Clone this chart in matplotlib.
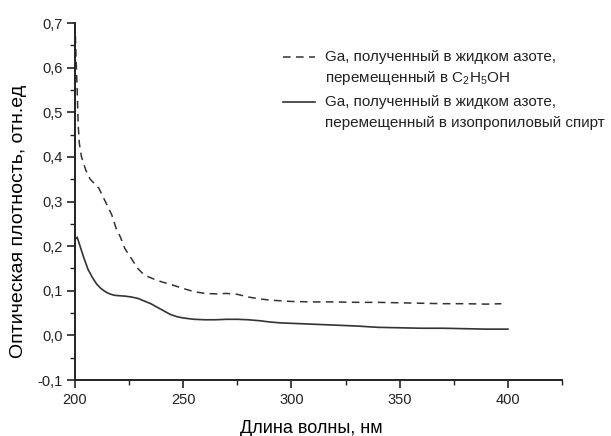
import numpy as np
import matplotlib.pyplot as plt
from matplotlib.lines import Line2D
from matplotlib.ticker import FixedLocator, MultipleLocator

plt.rcParams['font.family'] = ['Liberation Sans', 'DejaVu Sans']
plt.rcParams['mathtext.fontset'] = 'custom'
plt.rcParams['mathtext.rm'] = 'Liberation Sans'
plt.rcParams['mathtext.it'] = 'Liberation Sans'

# Ga в C2H5OH (штриховая)
wl_eth = [200, 200.5, 201, 201.5, 202, 203, 205, 207, 209, 211, 213, 215, 217,
          219, 221, 223, 225, 227, 229, 231, 233, 236, 240, 245, 250, 255, 260,
          265, 270, 275, 280, 285, 290, 300, 310, 320, 330, 340, 350, 360, 370,
          380, 390, 397]
od_eth = [0.70, 0.62, 0.55, 0.47, 0.43, 0.40, 0.37, 0.35, 0.34, 0.33, 0.31, 0.29,
          0.27, 0.24, 0.22, 0.195, 0.18, 0.165, 0.15, 0.14, 0.133, 0.127, 0.12,
          0.113, 0.105, 0.098, 0.094, 0.093, 0.094, 0.092, 0.086, 0.082, 0.079,
          0.076, 0.075, 0.075, 0.074, 0.074, 0.073, 0.072, 0.071, 0.071, 0.070,
          0.071]

# Ga в изопропиловом спирте (сплошная)
wl_iso = [200, 201, 202, 204, 206, 208, 210, 212, 214, 216, 218, 220, 223, 226,
          229, 232, 235, 238, 241, 244, 247, 250, 255, 260, 265, 270, 275, 280,
          285, 290, 295, 300, 310, 320, 330, 340, 350, 360, 370, 380, 390, 400]
od_iso = [0.215, 0.22, 0.205, 0.175, 0.148, 0.13, 0.115, 0.105, 0.098, 0.093,
          0.090, 0.089, 0.088, 0.086, 0.083, 0.077, 0.071, 0.063, 0.055, 0.047,
          0.042, 0.039, 0.036, 0.035, 0.035, 0.036, 0.036, 0.035, 0.033, 0.030,
          0.028, 0.027, 0.025, 0.023, 0.021, 0.018, 0.017, 0.016, 0.016, 0.015,
          0.014, 0.014]

xticks = [200, 250, 300, 350, 400]
yticks = [-0.1, 0.0, 0.1, 0.2, 0.3, 0.4, 0.5, 0.6, 0.7]
ytick_labels = ['-0,1', '0,0', '0,1', '0,2', '0,3', '0,4', '0,5', '0,6', '0,7']

label_eth = ['Ga, полученный в жидком азоте,', 'перемещенный в C$_2$H$_5$OH']
label_iso = ['Ga, полученный в жидком азоте,', 'перемещенный в изопропиловый спирт']

W, H = 611, 436
fig = plt.figure(figsize=(W / 100, H / 100), dpi=100)
ax = fig.add_axes([75 / W, 1 - 380 / H, 487 / W, 357 / H])

line_col = '#333333'
ax.plot(wl_eth, od_eth, color=line_col, lw=1.1, dashes=(5, 3.5))
ax.plot(wl_iso, od_iso, color=line_col, lw=1.2)

ax.set_xlim(200, 425)
ax.set_ylim(-0.1, 0.7)
ax.xaxis.set_major_locator(FixedLocator(xticks))
ax.xaxis.set_minor_locator(MultipleLocator(25))
ax.set_yticks(yticks)
ax.set_yticklabels(ytick_labels)
ax.yaxis.set_minor_locator(MultipleLocator(0.05))

for s in ['top', 'right']:
    ax.spines[s].set_visible(False)
for s in ['left', 'bottom']:
    ax.spines[s].set_linewidth(1.4)
    ax.spines[s].set_color('#222222')

ax.tick_params(which='major', direction='out', length=6, width=1.2,
               labelsize=10.5, colors='#222222', pad=3)
ax.tick_params(which='minor', direction='out', length=3.5, width=1.0,
               colors='#222222')

ax.set_xlabel('Длина волны, нм', fontsize=13)
ax.xaxis.set_label_coords(0.485, -0.112)
ax.set_ylabel('Оптическая плотность, отн.ед', fontsize=14)
ax.yaxis.set_label_coords(-0.098, 0.445)

# легенда: образец линии у первой строки подписи
def legend_entry(y_px, labels, **style):
    fig.add_artist(Line2D([283 / W, 315 / W], [1 - y_px / H] * 2,
                          transform=fig.transFigure, color=line_col, **style))
    for i, txt in enumerate(labels):
        fig.text(325 / W, 1 - (y_px + 21 * i) / H, txt, fontsize=11,
                 va='center', ha='left', color='#222222')

legend_entry(57, label_eth, lw=1.1, dashes=(5, 3.5))
legend_entry(102, label_iso, lw=1.2)

fig.savefig('out.png', dpi=100)
